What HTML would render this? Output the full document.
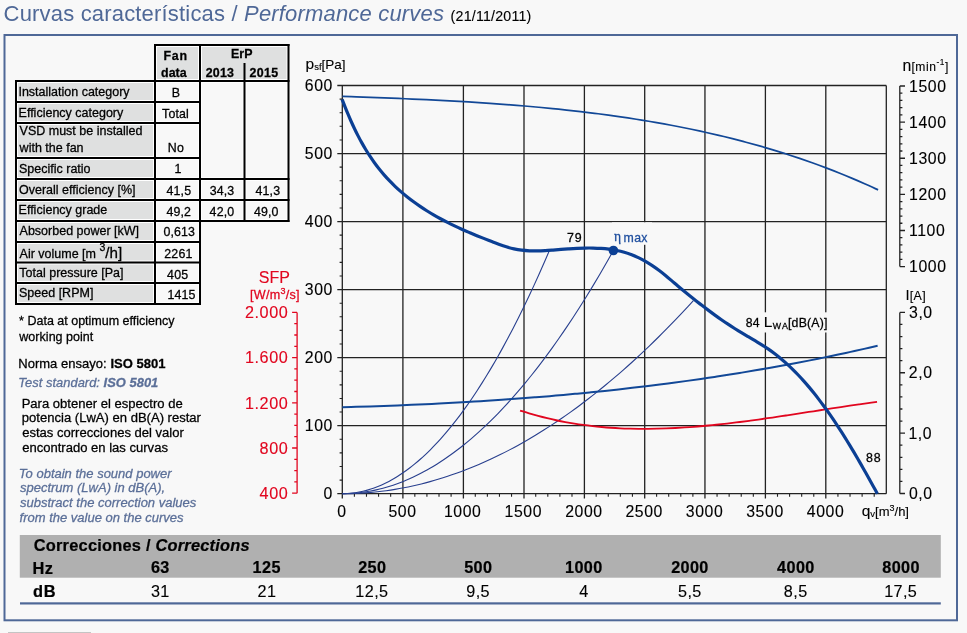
<!DOCTYPE html>
<html><head><meta charset="utf-8"><title>Curvas características / Performance curves</title>
<style>
html,body{margin:0;padding:0;background:#f8f8f8;}
body{width:967px;height:633px;overflow:hidden;}
svg{display:block;font-family:'Liberation Sans', Arial, sans-serif;}
</style></head><body>
<svg width="967" height="633" viewBox="0 0 967 633">
<rect x="4.5" y="35" width="952.5" height="585.3" fill="none" stroke="#4f6897" stroke-width="2"/>
<rect x="8" y="632" width="83" height="1" fill="#c4c4c4"/>
<text x="3.58" y="20.7" font-size="22" fill="#4f6897" letter-spacing="0.18">Curvas características / <tspan font-style="italic">Performance curves</tspan></text>
<text x="450.62" y="20.7" font-size="14.2" letter-spacing="0.21" stroke="#000" stroke-width="0.12">(21/11/2011)</text>
<rect x="156" y="46" width="43" height="34" fill="#dfe0e0"/>
<rect x="156.5" y="46.5" width="42" height="33" fill="none" stroke="#fff" stroke-width="1"/>
<rect x="201" y="46" width="86.5" height="34" fill="#dfe0e0"/>
<rect x="201.5" y="46.5" width="85.5" height="33" fill="none" stroke="#fff" stroke-width="1"/>
<rect x="17" y="82" width="137" height="19" fill="#dfe0e0"/>
<rect x="17.5" y="82.5" width="136" height="18" fill="none" stroke="#fff" stroke-width="1"/>
<rect x="156" y="82" width="43" height="19" fill="#f8f8f8"/>
<rect x="156.5" y="82.5" width="42" height="18" fill="none" stroke="#fff" stroke-width="1"/>
<rect x="17" y="103" width="137" height="19" fill="#dfe0e0"/>
<rect x="17.5" y="103.5" width="136" height="18" fill="none" stroke="#fff" stroke-width="1"/>
<rect x="156" y="103" width="43" height="19" fill="#f8f8f8"/>
<rect x="156.5" y="103.5" width="42" height="18" fill="none" stroke="#fff" stroke-width="1"/>
<rect x="17" y="124" width="137" height="33" fill="#dfe0e0"/>
<rect x="17.5" y="124.5" width="136" height="32" fill="none" stroke="#fff" stroke-width="1"/>
<rect x="156" y="124" width="43" height="33" fill="#f8f8f8"/>
<rect x="156.5" y="124.5" width="42" height="32" fill="none" stroke="#fff" stroke-width="1"/>
<rect x="17" y="159" width="137" height="19" fill="#dfe0e0"/>
<rect x="17.5" y="159.5" width="136" height="18" fill="none" stroke="#fff" stroke-width="1"/>
<rect x="156" y="159" width="43" height="19" fill="#f8f8f8"/>
<rect x="156.5" y="159.5" width="42" height="18" fill="none" stroke="#fff" stroke-width="1"/>
<rect x="17" y="180" width="137" height="19" fill="#dfe0e0"/>
<rect x="17.5" y="180.5" width="136" height="18" fill="none" stroke="#fff" stroke-width="1"/>
<rect x="156" y="180" width="43" height="19" fill="#f8f8f8"/>
<rect x="156.5" y="180.5" width="42" height="18" fill="none" stroke="#fff" stroke-width="1"/>
<rect x="17" y="201" width="137" height="19" fill="#dfe0e0"/>
<rect x="17.5" y="201.5" width="136" height="18" fill="none" stroke="#fff" stroke-width="1"/>
<rect x="156" y="201" width="43" height="19" fill="#f8f8f8"/>
<rect x="156.5" y="201.5" width="42" height="18" fill="none" stroke="#fff" stroke-width="1"/>
<rect x="17" y="222" width="137" height="19" fill="#dfe0e0"/>
<rect x="17.5" y="222.5" width="136" height="18" fill="none" stroke="#fff" stroke-width="1"/>
<rect x="156" y="222" width="43" height="19" fill="#f8f8f8"/>
<rect x="156.5" y="222.5" width="42" height="18" fill="none" stroke="#fff" stroke-width="1"/>
<rect x="17" y="243" width="137" height="18.5" fill="#dfe0e0"/>
<rect x="17.5" y="243.5" width="136" height="17.5" fill="none" stroke="#fff" stroke-width="1"/>
<rect x="156" y="243" width="43" height="18.5" fill="#f8f8f8"/>
<rect x="156.5" y="243.5" width="42" height="17.5" fill="none" stroke="#fff" stroke-width="1"/>
<rect x="17" y="263.5" width="137" height="18.5" fill="#dfe0e0"/>
<rect x="17.5" y="264" width="136" height="17.5" fill="none" stroke="#fff" stroke-width="1"/>
<rect x="156" y="263.5" width="43" height="18.5" fill="#f8f8f8"/>
<rect x="156.5" y="264" width="42" height="17.5" fill="none" stroke="#fff" stroke-width="1"/>
<rect x="17" y="284" width="137" height="19" fill="#dfe0e0"/>
<rect x="17.5" y="284.5" width="136" height="18" fill="none" stroke="#fff" stroke-width="1"/>
<rect x="156" y="284" width="43" height="19" fill="#f8f8f8"/>
<rect x="156.5" y="284.5" width="42" height="18" fill="none" stroke="#fff" stroke-width="1"/>
<rect x="201" y="82" width="42.5" height="96" fill="#f8f8f8"/>
<rect x="201.5" y="82.5" width="41.5" height="95" fill="none" stroke="#fff" stroke-width="1"/>
<rect x="245.5" y="82" width="42" height="96" fill="#f8f8f8"/>
<rect x="246" y="82.5" width="41" height="95" fill="none" stroke="#fff" stroke-width="1"/>
<rect x="201" y="180" width="42.5" height="19" fill="#f8f8f8"/>
<rect x="201.5" y="180.5" width="41.5" height="18" fill="none" stroke="#fff" stroke-width="1"/>
<rect x="245.5" y="180" width="42" height="19" fill="#f8f8f8"/>
<rect x="246" y="180.5" width="41" height="18" fill="none" stroke="#fff" stroke-width="1"/>
<rect x="201" y="201" width="42.5" height="19" fill="#f8f8f8"/>
<rect x="201.5" y="201.5" width="41.5" height="18" fill="none" stroke="#fff" stroke-width="1"/>
<rect x="245.5" y="201" width="42" height="19" fill="#f8f8f8"/>
<rect x="246" y="201.5" width="41" height="18" fill="none" stroke="#fff" stroke-width="1"/>
<rect x="154" y="44" width="135.5" height="2" fill="#000"/>
<rect x="287.5" y="44" width="2" height="178" fill="#000"/>
<rect x="243.5" y="63" width="2" height="159" fill="#000"/>
<rect x="199" y="44" width="2" height="261" fill="#000"/>
<rect x="154" y="44" width="2" height="261" fill="#000"/>
<rect x="15" y="80" width="2" height="225" fill="#000"/>
<rect x="15" y="80" width="274.5" height="2" fill="#000"/>
<rect x="15" y="101" width="186" height="2" fill="#000"/>
<rect x="15" y="122" width="186" height="2" fill="#000"/>
<rect x="15" y="157" width="186" height="2" fill="#000"/>
<rect x="15" y="178" width="274.5" height="2" fill="#000"/>
<rect x="15" y="199" width="274.5" height="2" fill="#000"/>
<rect x="15" y="220" width="274.5" height="2" fill="#000"/>
<rect x="15" y="241" width="186" height="2" fill="#000"/>
<rect x="15" y="261.5" width="186" height="2" fill="#000"/>
<rect x="15" y="282" width="186" height="2" fill="#000"/>
<rect x="15" y="303" width="186" height="2" fill="#000"/>
<text x="163.47" y="59.8" font-size="12.4" font-weight="bold" letter-spacing="0.78" stroke="#000" stroke-width="0.28">Fan</text>
<text x="160.99" y="76.7" font-size="12.4" font-weight="bold" letter-spacing="0.08" stroke="#000" stroke-width="0.28">data</text>
<text x="230.97" y="57.9" font-size="12.4" font-weight="bold" letter-spacing="0.14" stroke="#000" stroke-width="0.28">ErP</text>
<text x="205.77" y="76.7" font-size="12.4" font-weight="bold" letter-spacing="0.2" stroke="#000" stroke-width="0.28">2013</text>
<text x="249.57" y="76.7" font-size="12.4" font-weight="bold" letter-spacing="0.3" stroke="#000" stroke-width="0.28">2015</text>
<text x="18.45" y="96.2" font-size="12.5" stroke="#000" stroke-width="0.28">Installation category</text>
<text x="18.57" y="116.8" font-size="12.5" stroke="#000" stroke-width="0.28">Efficiency category</text>
<text x="19.55" y="134.9" font-size="12.5" stroke="#000" stroke-width="0.28">VSD must be installed</text>
<text x="19.62" y="151.6" font-size="12.5" stroke="#000" stroke-width="0.28">with the fan</text>
<text x="19.03" y="172.5" font-size="12.5" stroke="#000" stroke-width="0.28">Specific ratio</text>
<text x="19.01" y="194" font-size="12.5" stroke="#000" stroke-width="0.28">Overall efficiency [%]</text>
<text x="18.57" y="214.1" font-size="12.5" stroke="#000" stroke-width="0.28">Efficiency grade</text>
<text x="19.58" y="234.9" font-size="12.5" stroke="#000" stroke-width="0.28">Absorbed power [kW]</text>
<text x="19.32" y="276.7" font-size="12.5" stroke="#000" stroke-width="0.28">Total pressure [Pa]</text>
<text x="19.03" y="297.1" font-size="12.5" stroke="#000" stroke-width="0.28">Speed [RPM]</text>
<text x="19.58" y="257.8" font-size="12.5" stroke="#000" stroke-width="0.28">Air volume [m <tspan font-size="10.5" dy="-6.6">3</tspan><tspan dy="6.6" font-size="15.2">/h]</tspan></text>
<text x="171.68" y="97.2" font-size="12.4" letter-spacing="0.15" stroke="#000" stroke-width="0.28">B</text>
<text x="162.04" y="117.6" font-size="12.4" letter-spacing="0.15" stroke="#000" stroke-width="0.28">Total</text>
<text x="167.85" y="152.4" font-size="12.4" letter-spacing="0.15" stroke="#000" stroke-width="0.28">No</text>
<text x="174.58" y="173.4" font-size="12.4" letter-spacing="0.15" stroke="#000" stroke-width="0.28">1</text>
<text x="166.48" y="194.9" font-size="12.4" letter-spacing="0.15" stroke="#000" stroke-width="0.28">41,5</text>
<text x="166.43" y="215.7" font-size="12.4" letter-spacing="0.15" stroke="#000" stroke-width="0.28">49,2</text>
<text x="163.42" y="236.3" font-size="12.4" letter-spacing="0.15" stroke="#000" stroke-width="0.28">0,613</text>
<text x="164.32" y="257.8" font-size="12.4" letter-spacing="0.15" stroke="#000" stroke-width="0.28">2261</text>
<text x="167.12" y="278.7" font-size="12.4" letter-spacing="0.15" stroke="#000" stroke-width="0.28">405</text>
<text x="167.42" y="298.9" font-size="12.4" letter-spacing="0.15" stroke="#000" stroke-width="0.28">1415</text>
<text x="209.69" y="194.9" font-size="12.4" letter-spacing="0.15" stroke="#000" stroke-width="0.28">34,3</text>
<text x="255.54" y="194.9" font-size="12.4" letter-spacing="0.15" stroke="#000" stroke-width="0.28">41,3</text>
<text x="209.61" y="215.7" font-size="12.4" letter-spacing="0.15" stroke="#000" stroke-width="0.28">42,0</text>
<text x="253.91" y="215.7" font-size="12.4" letter-spacing="0.15" stroke="#000" stroke-width="0.28">49,0</text>
<text x="19.1" y="325.1" font-size="12.5" stroke="#000" stroke-width="0.28">* Data at optimum efficiency</text>
<text x="19.32" y="340.6" font-size="12.5" letter-spacing="0.03" stroke="#000" stroke-width="0.28">working point</text>
<text x="18.23" y="367.7" font-size="13" letter-spacing="0.03" stroke="#000" stroke-width="0.28">Norma ensayo: <tspan font-weight="bold">ISO 5801</tspan></text>
<text x="18.34" y="386.7" font-size="12.9" font-style="italic" fill="#5b6f98" letter-spacing="0.03" stroke="#5b6f98" stroke-width="0.28">Test standard: <tspan font-weight="bold">ISO 5801</tspan></text>
<text x="21.63" y="407.7" font-size="13.05" stroke="#000" stroke-width="0.28">Para obtener el espectro de</text>
<text x="21.86" y="422.3" font-size="13.05" stroke="#000" stroke-width="0.28">potencia (LwA) en dB(A) restar</text>
<text x="22.15" y="436.9" font-size="13.05" stroke="#000" stroke-width="0.28">estas correcciones del valor</text>
<text x="22.15" y="451.5" font-size="13.05" stroke="#000" stroke-width="0.28">encontrado en las curvas</text>
<text x="18.83" y="477.8" font-size="13.0" font-style="italic" fill="#5b6f98" stroke="#5b6f98" stroke-width="0.28">To obtain the sound power</text>
<text x="19.97" y="492.4" font-size="13.0" font-style="italic" fill="#5b6f98" stroke="#5b6f98" stroke-width="0.28">spectrum (LwA) in dB(A),</text>
<text x="19.97" y="507" font-size="13.0" font-style="italic" fill="#5b6f98" stroke="#5b6f98" stroke-width="0.28">substract the correction values</text>
<text x="19.56" y="521.6" font-size="13.0" font-style="italic" fill="#5b6f98" stroke="#5b6f98" stroke-width="0.28">from the value on the curves</text>
<rect x="19.8" y="535" width="921" height="42.7" fill="#b0b0b0"/>
<text x="33.73" y="550.9" font-size="16.4" font-weight="bold" letter-spacing="0.22" stroke="#000" stroke-width="0.22">Correcciones / <tspan font-style="italic">Corrections</tspan></text>
<text x="32.4" y="574" font-size="16.4" font-weight="bold" letter-spacing="0.6" stroke="#000" stroke-width="0.22">Hz</text>
<text x="33.03" y="596.5" font-size="16.4" font-weight="bold" letter-spacing="0.6" stroke="#000" stroke-width="0.22">dB</text>
<text x="150.89" y="573.1" font-size="16.2" font-weight="bold" letter-spacing="0.4" stroke="#000" stroke-width="0.22">63</text>
<text x="150.98" y="597" font-size="16.2" letter-spacing="0.4" stroke="#000" stroke-width="0.12">31</text>
<text x="252.6" y="573.1" font-size="16.2" font-weight="bold" letter-spacing="0.4" stroke="#000" stroke-width="0.22">125</text>
<text x="257.58" y="597" font-size="16.2" letter-spacing="0.4" stroke="#000" stroke-width="0.12">21</text>
<text x="358.14" y="573.1" font-size="16.2" font-weight="bold" letter-spacing="0.4" stroke="#000" stroke-width="0.22">250</text>
<text x="355.36" y="597" font-size="16.2" letter-spacing="0.4" stroke="#000" stroke-width="0.12">12,5</text>
<text x="464.17" y="573.1" font-size="16.2" font-weight="bold" letter-spacing="0.4" stroke="#000" stroke-width="0.22">500</text>
<text x="466.3" y="597" font-size="16.2" letter-spacing="0.4" stroke="#000" stroke-width="0.12">9,5</text>
<text x="565" y="573.1" font-size="16.2" font-weight="bold" letter-spacing="0.4" stroke="#000" stroke-width="0.22">1000</text>
<text x="579.35" y="597" font-size="16.2" letter-spacing="0.4" stroke="#000" stroke-width="0.12">4</text>
<text x="671.13" y="573.1" font-size="16.2" font-weight="bold" letter-spacing="0.4" stroke="#000" stroke-width="0.22">2000</text>
<text x="678.06" y="597" font-size="16.2" letter-spacing="0.4" stroke="#000" stroke-width="0.12">5,5</text>
<text x="777.09" y="573.1" font-size="16.2" font-weight="bold" letter-spacing="0.4" stroke="#000" stroke-width="0.22">4000</text>
<text x="783.83" y="597" font-size="16.2" letter-spacing="0.4" stroke="#000" stroke-width="0.12">8,5</text>
<text x="882.26" y="573.1" font-size="16.2" font-weight="bold" letter-spacing="0.4" stroke="#000" stroke-width="0.22">8000</text>
<text x="884.16" y="597" font-size="16.2" letter-spacing="0.4" stroke="#000" stroke-width="0.12">17,5</text>
<rect x="20" y="602.3" width="920.8" height="2.2" fill="#4f6897"/>
<path d="M342.3,85.5V498.5M402.9,85.5V498.5M463.4,85.5V498.5M524,85.5V498.5M584.4,85.5V498.5M644.7,85.5V498.5M704.95,85.5V498.5M765.4,85.5V498.5M825.8,85.5V498.5M886.3,85.5V493.7M337.3,493.7H886.3M337.3,425.67H886.3M337.3,357.63H886.3M337.3,289.6H886.3M337.3,221.57H886.3M337.3,153.53H886.3M337.3,85.5H886.3" stroke="#222222" stroke-width="1.3" fill="none"/>
<path d="M339.6,480.09H342.3M339.6,466.49H342.3M339.6,452.88H342.3M339.6,439.27H342.3M339.6,412.06H342.3M339.6,398.45H342.3M339.6,384.85H342.3M339.6,371.24H342.3M339.6,344.03H342.3M339.6,330.42H342.3M339.6,316.81H342.3M339.6,303.21H342.3M339.6,275.99H342.3M339.6,262.39H342.3M339.6,248.78H342.3M339.6,235.17H342.3M339.6,207.96H342.3M339.6,194.35H342.3M339.6,180.75H342.3M339.6,167.14H342.3M339.6,139.93H342.3M339.6,126.32H342.3M339.6,112.71H342.3M339.6,99.11H342.3M354.39,493.7V496.7M366.48,493.7V496.7M378.57,493.7V496.7M390.66,493.7V496.7M414.83,493.7V496.7M426.92,493.7V496.7M439.01,493.7V496.7M451.1,493.7V496.7M475.28,493.7V496.7M487.37,493.7V496.7M499.46,493.7V496.7M511.54,493.7V496.7M535.72,493.7V496.7M547.81,493.7V496.7M559.9,493.7V496.7M571.99,493.7V496.7M596.17,493.7V496.7M608.26,493.7V496.7M620.34,493.7V496.7M632.43,493.7V496.7M656.61,493.7V496.7M668.7,493.7V496.7M680.79,493.7V496.7M692.88,493.7V496.7M717.06,493.7V496.7M729.14,493.7V496.7M741.23,493.7V496.7M753.32,493.7V496.7M777.5,493.7V496.7M789.59,493.7V496.7M801.68,493.7V496.7M813.77,493.7V496.7M837.94,493.7V496.7M850.03,493.7V496.7M862.12,493.7V496.7M874.21,493.7V496.7" stroke="#222222" stroke-width="1.1" fill="none"/>
<rect x="612" y="222.3" width="40" height="22.5" fill="#f8f8f8"/>
<rect x="744" y="312.3" width="85" height="20.2" fill="#f8f8f8"/>
<text x="323.53" y="499.3" font-size="15.8" letter-spacing="0.6" stroke="#000" stroke-width="0.12">0</text>
<text x="304.76" y="431.27" font-size="15.8" letter-spacing="0.6" stroke="#000" stroke-width="0.12">100</text>
<text x="304.76" y="363.23" font-size="15.8" letter-spacing="0.6" stroke="#000" stroke-width="0.12">200</text>
<text x="304.76" y="295.2" font-size="15.8" letter-spacing="0.6" stroke="#000" stroke-width="0.12">300</text>
<text x="304.76" y="227.17" font-size="15.8" letter-spacing="0.6" stroke="#000" stroke-width="0.12">400</text>
<text x="304.76" y="159.13" font-size="15.8" letter-spacing="0.6" stroke="#000" stroke-width="0.12">500</text>
<text x="304.76" y="91.1" font-size="15.8" letter-spacing="0.6" stroke="#000" stroke-width="0.12">600</text>
<text x="337.21" y="516.9" font-size="15.8" letter-spacing="0.6" stroke="#000" stroke-width="0.12">0</text>
<text x="388.41" y="516.9" font-size="15.8" letter-spacing="0.6" stroke="#000" stroke-width="0.12">500</text>
<text x="443.93" y="516.9" font-size="15.8" letter-spacing="0.6" stroke="#000" stroke-width="0.12">1000</text>
<text x="504.53" y="516.9" font-size="15.8" letter-spacing="0.6" stroke="#000" stroke-width="0.12">1500</text>
<text x="565.14" y="516.9" font-size="15.8" letter-spacing="0.6" stroke="#000" stroke-width="0.12">2000</text>
<text x="625.44" y="516.9" font-size="15.8" letter-spacing="0.6" stroke="#000" stroke-width="0.12">2500</text>
<text x="685.78" y="516.9" font-size="15.8" letter-spacing="0.6" stroke="#000" stroke-width="0.12">3000</text>
<text x="746.23" y="516.9" font-size="15.8" letter-spacing="0.6" stroke="#000" stroke-width="0.12">3500</text>
<text x="806.75" y="516.9" font-size="15.8" letter-spacing="0.6" stroke="#000" stroke-width="0.12">4000</text>
<text x="305.5" y="69.2" font-size="15.5" stroke="#000" stroke-width="0.12">p<tspan font-size="9.5" dy="0.4">sf</tspan><tspan dy="-0.4" font-size="13.5">[Pa]</tspan></text>
<text x="861.7" y="515.5" font-size="15.5" stroke="#000" stroke-width="0.12">q<tspan font-size="9.5" dy="1">v</tspan><tspan dy="-1" font-size="13">[m<tspan font-size="9" dy="-5">3</tspan><tspan dy="5">/h]</tspan></tspan></text>
<path d="M899.8,86V266.6M899.8,266.6h5.2M899.8,259.38h2.6M899.8,252.15h2.6M899.8,244.93h2.6M899.8,237.7h2.6M899.8,230.48h5.2M899.8,223.26h2.6M899.8,216.03h2.6M899.8,208.81h2.6M899.8,201.58h2.6M899.8,194.36h5.2M899.8,187.14h2.6M899.8,179.91h2.6M899.8,172.69h2.6M899.8,165.46h2.6M899.8,158.24h5.2M899.8,151.02h2.6M899.8,143.79h2.6M899.8,136.57h2.6M899.8,129.34h2.6M899.8,122.12h5.2M899.8,114.9h2.6M899.8,107.67h2.6M899.8,100.45h2.6M899.8,93.22h2.6M899.8,86h5.2M899.8,312.4V493.5M899.8,493.5h5.2M899.8,481.43h2.6M899.8,469.35h2.6M899.8,457.28h2.6M899.8,445.21h2.6M899.8,433.13h5.2M899.8,421.06h2.6M899.8,408.99h2.6M899.8,396.91h2.6M899.8,384.84h2.6M899.8,372.77h5.2M899.8,360.69h2.6M899.8,348.62h2.6M899.8,336.55h2.6M899.8,324.47h2.6M899.8,312.4h5.2" stroke="#222" stroke-width="1.3" fill="none"/>
<text x="909" y="272.2" font-size="15.8" letter-spacing="0.6" stroke="#000" stroke-width="0.12">1000</text>
<text x="909" y="236.08" font-size="15.8" letter-spacing="0.6" stroke="#000" stroke-width="0.12">1100</text>
<text x="909" y="199.96" font-size="15.8" letter-spacing="0.6" stroke="#000" stroke-width="0.12">1200</text>
<text x="909" y="163.84" font-size="15.8" letter-spacing="0.6" stroke="#000" stroke-width="0.12">1300</text>
<text x="909" y="127.72" font-size="15.8" letter-spacing="0.6" stroke="#000" stroke-width="0.12">1400</text>
<text x="909" y="91.6" font-size="15.8" letter-spacing="0.6" stroke="#000" stroke-width="0.12">1500</text>
<text x="909" y="318" font-size="15.8" letter-spacing="0.6" stroke="#000" stroke-width="0.12">3,0</text>
<text x="908.81" y="378.37" font-size="15.8" letter-spacing="0.6" stroke="#000" stroke-width="0.12">2,0</text>
<text x="908.4" y="438.73" font-size="15.8" letter-spacing="0.6" stroke="#000" stroke-width="0.12">1,0</text>
<text x="908.98" y="499.1" font-size="15.8" letter-spacing="0.6" stroke="#000" stroke-width="0.12">0,0</text>
<text x="902.6" y="70.9" font-size="15.8" stroke="#000" stroke-width="0.12">n<tspan font-size="12.1" letter-spacing="0.55">[min<tspan font-size="8.3" dy="-5.6">-1</tspan><tspan dy="5.6">]</tspan></tspan></text>
<text x="905.6" y="299.6" font-size="14.7" stroke="#000" stroke-width="0.12">I<tspan font-size="12.4" dy="0.4" letter-spacing="0.4">[A]</tspan></text>
<path d="M297.1,312.4V493.2M297.1,493.2h-5M297.1,481.9h-2.8M297.1,470.6h-2.8M297.1,459.3h-2.8M297.1,448h-5M297.1,436.7h-2.8M297.1,425.4h-2.8M297.1,414.1h-2.8M297.1,402.8h-5M297.1,391.5h-2.8M297.1,380.2h-2.8M297.1,368.9h-2.8M297.1,357.6h-5M297.1,346.3h-2.8M297.1,335h-2.8M297.1,323.7h-2.8M297.1,312.4h-5" stroke="#e1061f" stroke-width="1.3" fill="none"/>
<text x="244.99" y="318.1" font-size="16.2" fill="#e1061f" letter-spacing="0.55" stroke="#e1061f" stroke-width="0.12">2.000</text>
<text x="244.99" y="363.3" font-size="16.2" fill="#e1061f" letter-spacing="0.55" stroke="#e1061f" stroke-width="0.12">1.600</text>
<text x="244.99" y="408.5" font-size="16.2" fill="#e1061f" letter-spacing="0.55" stroke="#e1061f" stroke-width="0.12">1.200</text>
<text x="259.6" y="453.7" font-size="16.2" fill="#e1061f" letter-spacing="0.55" stroke="#e1061f" stroke-width="0.12">800</text>
<text x="259.6" y="498.9" font-size="16.2" fill="#e1061f" letter-spacing="0.55" stroke="#e1061f" stroke-width="0.12">400</text>
<text x="258.87" y="283" font-size="16.0" fill="#e1061f" letter-spacing="-0.07" stroke="#e1061f" stroke-width="0.12">SFP</text>
<text x="250.0" y="298.8" font-size="12.6" letter-spacing="0.25" fill="#e1061f" stroke="#e1061f" stroke-width="0.28">[W/m<tspan font-size="9" dy="-4.8">3</tspan><tspan dy="4.8">/s]</tspan></text>
<path d="M342.3,493.7 C343.16,493.67 345.75,493.65 347.48,493.55 C349.2,493.45 350.93,493.29 352.66,493.09 C354.38,492.89 356.11,492.64 357.83,492.33 C359.56,492.03 361.28,491.67 363.01,491.27 C364.74,490.86 366.46,490.41 368.19,489.9 C369.91,489.39 371.64,488.84 373.37,488.23 C375.09,487.62 376.82,486.96 378.54,486.25 C380.27,485.54 381.99,484.78 383.72,483.97 C385.45,483.16 387.17,482.3 388.9,481.39 C390.62,480.48 392.35,479.51 394.07,478.5 C395.8,477.49 397.53,476.42 399.25,475.31 C400.98,474.19 402.7,473.03 404.43,471.81 C406.16,470.6 407.88,469.33 409.61,468.01 C411.33,466.7 413.06,465.33 414.78,463.91 C416.51,462.49 418.24,461.02 419.96,459.5 C421.69,457.98 423.41,456.41 425.14,454.79 C426.87,453.17 428.59,451.5 430.32,449.77 C432.04,448.05 433.77,446.28 435.5,444.45 C437.22,442.63 438.95,440.76 440.67,438.83 C442.4,436.91 444.12,434.93 445.85,432.9 C447.58,430.88 449.3,428.8 451.03,426.67 C452.75,424.54 454.48,422.36 456.2,420.14 C457.93,417.91 459.66,415.63 461.38,413.3 C463.11,410.97 464.83,408.58 466.56,406.15 C468.29,403.72 470.01,401.24 471.74,398.7 C473.46,396.17 475.19,393.59 476.91,390.95 C478.64,388.32 480.37,385.63 482.09,382.9 C483.82,380.16 485.54,377.37 487.27,374.54 C489,371.7 490.72,368.81 492.45,365.87 C494.17,362.94 495.9,359.95 497.62,356.91 C499.35,353.87 501.08,350.78 502.8,347.63 C504.53,344.49 506.25,341.3 507.98,338.06 C509.71,334.82 511.43,331.52 513.16,328.18 C514.88,324.84 516.61,321.44 518.34,318 C520.06,314.55 521.79,311.06 523.51,307.51 C525.24,303.96 526.96,300.37 528.69,296.72 C530.42,293.07 532.14,289.37 533.87,285.62 C535.59,281.87 537.32,278.07 539.04,274.22 C540.77,270.37 542.5,266.47 544.22,262.52 C545.95,258.57 548.54,252.51 549.4,250.51" stroke="#283f8e" stroke-width="1.1" fill="none"/>
<path d="M342.3,493.7 C343.43,493.67 346.82,493.65 349.08,493.55 C351.34,493.45 353.6,493.29 355.86,493.09 C358.11,492.89 360.37,492.64 362.63,492.33 C364.89,492.03 367.15,491.67 369.41,491.27 C371.67,490.86 373.93,490.41 376.19,489.9 C378.45,489.39 380.71,488.84 382.97,488.23 C385.22,487.62 387.48,486.96 389.74,486.25 C392,485.54 394.26,484.78 396.52,483.97 C398.78,483.16 401.04,482.3 403.3,481.39 C405.56,480.48 407.82,479.51 410.07,478.5 C412.33,477.49 414.59,476.42 416.85,475.31 C419.11,474.19 421.37,473.03 423.63,471.81 C425.89,470.6 428.15,469.33 430.41,468.01 C432.67,466.7 434.93,465.33 437.19,463.91 C439.44,462.49 441.7,461.02 443.96,459.5 C446.22,457.98 448.48,456.41 450.74,454.79 C453,453.17 455.26,451.5 457.52,449.77 C459.78,448.05 462.04,446.28 464.29,444.45 C466.55,442.63 468.81,440.75 471.07,438.83 C473.33,436.9 475.59,434.93 477.85,432.9 C480.11,430.87 482.37,428.8 484.63,426.67 C486.89,424.54 489.15,422.36 491.4,420.13 C493.66,417.9 495.92,415.62 498.18,413.29 C500.44,410.96 502.7,408.58 504.96,406.15 C507.22,403.72 509.48,401.23 511.74,398.7 C514,396.17 516.26,393.58 518.51,390.95 C520.77,388.32 523.03,385.63 525.29,382.89 C527.55,380.16 529.81,377.37 532.07,374.53 C534.33,371.7 536.59,368.81 538.85,365.87 C541.11,362.93 543.37,359.94 545.62,356.9 C547.88,353.86 550.14,350.77 552.4,347.63 C554.66,344.49 556.92,341.3 559.18,338.05 C561.44,334.81 563.7,331.52 565.96,328.17 C568.22,324.83 570.48,321.44 572.74,317.99 C574.99,314.55 577.25,311.05 579.51,307.5 C581.77,303.96 584.03,300.36 586.29,296.71 C588.55,293.06 590.81,289.36 593.07,285.62 C595.33,281.87 597.59,278.07 599.85,274.22 C602.1,270.37 604.36,266.46 606.62,262.51 C608.88,258.56 612.27,252.51 613.4,250.5" stroke="#283f8e" stroke-width="1.1" fill="none"/>
<path d="M342.3,493.7 C343.76,493.68 348.15,493.66 351.08,493.58 C354,493.5 356.93,493.38 359.86,493.22 C362.78,493.06 365.71,492.85 368.63,492.61 C371.56,492.37 374.48,492.09 377.41,491.77 C380.34,491.45 383.26,491.08 386.19,490.68 C389.11,490.28 392.04,489.84 394.97,489.35 C397.89,488.87 400.82,488.35 403.74,487.78 C406.67,487.22 409.59,486.62 412.52,485.97 C415.45,485.33 418.37,484.65 421.3,483.92 C424.22,483.2 427.15,482.43 430.07,481.63 C433,480.82 435.93,479.98 438.85,479.09 C441.78,478.21 444.7,477.28 447.63,476.32 C450.56,475.35 453.48,474.34 456.41,473.3 C459.33,472.25 462.26,471.16 465.19,470.04 C468.11,468.91 471.04,467.74 473.96,466.54 C476.89,465.33 479.81,464.08 482.74,462.79 C485.67,461.51 488.59,460.18 491.52,458.81 C494.44,457.44 497.37,456.03 500.29,454.58 C503.22,453.14 506.15,451.65 509.07,450.12 C512,448.59 514.92,447.02 517.85,445.41 C520.78,443.8 523.7,442.15 526.63,440.46 C529.55,438.77 532.48,437.04 535.4,435.27 C538.33,433.5 541.26,431.69 544.18,429.83 C547.11,427.98 550.03,426.09 552.96,424.16 C555.89,422.23 558.81,420.26 561.74,418.24 C564.66,416.23 567.59,414.18 570.51,412.09 C573.44,409.99 576.37,407.86 579.29,405.69 C582.22,403.52 585.14,401.3 588.07,399.05 C591,396.8 593.92,394.5 596.85,392.17 C599.77,389.83 602.7,387.46 605.62,385.04 C608.55,382.63 611.48,380.17 614.4,377.68 C617.33,375.18 620.25,372.65 623.18,370.07 C626.11,367.5 629.03,364.88 631.96,362.23 C634.88,359.57 637.81,356.87 640.74,354.14 C643.66,351.4 646.59,348.62 649.51,345.81 C652.44,342.99 655.36,340.13 658.29,337.24 C661.22,334.34 664.14,331.4 667.07,328.42 C669.99,325.44 672.92,322.43 675.85,319.37 C678.77,316.31 681.7,313.21 684.62,310.07 C687.55,306.93 691.94,302.12 693.4,300.53" stroke="#283f8e" stroke-width="1.1" fill="none"/>
<path d="M342.45,96.35 C344.77,96.43 351.73,96.67 356.38,96.84 C361.02,97.01 365.67,97.18 370.32,97.35 C374.98,97.52 379.63,97.7 384.29,97.88 C388.96,98.06 393.62,98.25 398.28,98.44 C402.95,98.64 407.62,98.84 412.29,99.04 C416.96,99.25 421.63,99.46 426.31,99.69 C430.98,99.91 435.66,100.14 440.34,100.38 C445.02,100.62 449.7,100.87 454.38,101.13 C459.06,101.4 463.74,101.67 468.42,101.95 C473.1,102.23 477.78,102.53 482.46,102.84 C487.14,103.15 491.83,103.47 496.51,103.8 C501.19,104.14 505.87,104.49 510.55,104.85 C515.23,105.22 519.9,105.6 524.58,106 C529.26,106.39 533.93,106.8 538.61,107.23 C543.28,107.67 547.95,108.11 552.62,108.58 C557.29,109.05 561.95,109.53 566.62,110.03 C571.28,110.54 575.94,111.06 580.6,111.61 C585.26,112.16 589.91,112.72 594.56,113.31 C599.21,113.9 603.86,114.51 608.5,115.14 C613.14,115.77 617.78,116.43 622.41,117.11 C627.04,117.79 631.67,118.5 636.29,119.23 C640.91,119.96 645.53,120.71 650.14,121.49 C654.75,122.28 659.36,123.08 663.96,123.92 C668.56,124.76 673.15,125.62 677.74,126.51 C682.33,127.41 686.91,128.33 691.48,129.28 C696.05,130.23 700.62,131.21 705.18,132.22 C709.74,133.24 714.29,134.28 718.83,135.35 C723.37,136.43 727.91,137.54 732.43,138.68 C736.96,139.82 741.48,140.99 745.99,142.2 C750.49,143.41 754.99,144.65 759.49,145.93 C763.98,147.21 768.46,148.52 772.93,149.87 C777.4,151.22 781.86,152.61 786.31,154.03 C790.76,155.46 795.2,156.92 799.63,158.42 C804.06,159.92 808.48,161.46 812.89,163.04 C817.29,164.63 821.69,166.24 826.07,167.91 C830.46,169.57 834.83,171.27 839.19,173.02 C843.55,174.76 847.9,176.55 852.23,178.38 C856.57,180.21 860.89,182.08 865.2,184 C869.51,185.92 875.94,188.91 878.09,189.89" stroke="#124897" stroke-width="1.7" fill="none"/>
<path d="M342.31,407.24 C344.61,407.18 351.52,406.99 356.13,406.86 C360.74,406.72 365.35,406.58 369.96,406.43 C374.57,406.28 379.18,406.12 383.79,405.96 C388.4,405.79 393,405.62 397.61,405.43 C402.22,405.25 406.83,405.06 411.44,404.86 C416.05,404.66 420.66,404.46 425.27,404.24 C429.88,404.03 434.48,403.8 439.09,403.57 C443.7,403.34 448.31,403.09 452.92,402.84 C457.52,402.59 462.13,402.33 466.74,402.06 C471.34,401.79 475.95,401.51 480.55,401.22 C485.16,400.93 489.76,400.64 494.37,400.33 C498.97,400.02 503.58,399.7 508.18,399.37 C512.78,399.04 517.38,398.7 521.98,398.35 C526.59,398.01 531.19,397.65 535.79,397.28 C540.38,396.91 544.98,396.53 549.58,396.13 C554.18,395.74 558.77,395.34 563.37,394.93 C567.97,394.51 572.56,394.09 577.15,393.65 C581.75,393.22 586.34,392.77 590.93,392.31 C595.52,391.85 600.11,391.38 604.7,390.9 C609.28,390.41 613.87,389.92 618.46,389.41 C623.04,388.91 627.62,388.39 632.21,387.86 C636.79,387.33 641.37,386.78 645.95,386.23 C650.53,385.67 655.1,385.1 659.68,384.52 C664.25,383.94 668.83,383.35 673.4,382.74 C677.97,382.13 682.54,381.51 687.11,380.88 C691.68,380.24 696.25,379.6 700.81,378.94 C705.37,378.28 709.94,377.6 714.5,376.92 C719.06,376.23 723.62,375.53 728.17,374.81 C732.73,374.09 737.28,373.36 741.83,372.62 C746.38,371.88 750.93,371.12 755.48,370.35 C760.03,369.57 764.57,368.79 769.11,367.98 C773.66,367.18 778.2,366.36 782.73,365.53 C787.27,364.7 791.81,363.85 796.34,362.99 C800.87,362.13 805.4,361.25 809.93,360.36 C814.45,359.46 818.98,358.55 823.5,357.63 C828.02,356.71 832.54,355.77 837.05,354.81 C841.57,353.85 846.08,352.88 850.59,351.89 C855.1,350.9 859.61,349.9 864.11,348.88 C868.62,347.86 875.36,346.28 877.62,345.76" stroke="#124897" stroke-width="2" fill="none"/>
<path d="M520.1,410.54 C521.61,411.01 526.1,412.47 529.11,413.36 C532.11,414.26 535.12,415.11 538.13,415.91 C541.14,416.72 544.16,417.48 547.18,418.21 C550.19,418.93 553.22,419.61 556.24,420.25 C559.27,420.89 562.29,421.49 565.32,422.05 C568.35,422.61 571.39,423.13 574.43,423.62 C577.46,424.11 580.5,424.55 583.54,424.96 C586.58,425.38 589.63,425.75 592.68,426.09 C595.72,426.44 598.77,426.74 601.82,427.02 C604.87,427.29 607.93,427.53 610.98,427.74 C614.04,427.95 617.1,428.13 620.15,428.28 C623.21,428.43 626.27,428.54 629.34,428.63 C632.4,428.72 635.46,428.78 638.53,428.82 C641.59,428.85 644.66,428.85 647.73,428.84 C650.8,428.82 653.87,428.77 656.94,428.7 C660.01,428.63 663.08,428.54 666.15,428.42 C669.22,428.31 672.29,428.17 675.37,428.01 C678.44,427.85 681.51,427.66 684.59,427.46 C687.66,427.26 690.74,427.04 693.81,426.8 C696.89,426.56 699.96,426.3 703.04,426.02 C706.11,425.75 709.19,425.46 712.26,425.15 C715.34,424.84 718.41,424.52 721.49,424.18 C724.56,423.84 727.64,423.49 730.71,423.12 C733.78,422.76 736.86,422.38 739.93,421.99 C743,421.61 746.07,421.2 749.15,420.8 C752.22,420.39 755.29,419.97 758.35,419.54 C761.42,419.11 764.49,418.68 767.56,418.23 C770.62,417.79 773.69,417.34 776.75,416.89 C779.81,416.43 782.88,415.97 785.94,415.51 C789,415.05 792.06,414.58 795.11,414.11 C798.17,413.64 801.22,413.16 804.28,412.69 C807.33,412.22 810.38,411.74 813.43,411.27 C816.48,410.79 819.52,410.32 822.56,409.84 C825.61,409.37 828.65,408.9 831.69,408.43 C834.73,407.97 837.76,407.5 840.79,407.04 C843.83,406.59 846.86,406.13 849.88,405.68 C852.91,405.24 855.93,404.79 858.95,404.36 C861.97,403.93 864.99,403.5 868.01,403.08 C871.02,402.67 875.53,402.06 877.04,401.86" stroke="#e1061f" stroke-width="1.8" fill="none"/>
<path d="M342.09,99.32 C342.57,100.54 343.96,104.21 344.93,106.65 C345.9,109.09 346.89,111.54 347.92,113.97 C348.94,116.41 349.99,118.84 351.07,121.26 C352.16,123.67 353.27,126.09 354.42,128.48 C355.56,130.87 356.74,133.25 357.96,135.61 C359.17,137.97 360.42,140.32 361.71,142.64 C363.01,144.95 364.33,147.25 365.7,149.52 C367.07,151.79 368.48,154.03 369.94,156.24 C371.39,158.45 372.89,160.63 374.44,162.77 C375.98,164.91 377.57,167.02 379.22,169.08 C380.86,171.15 382.55,173.18 384.29,175.16 C386.03,177.14 387.82,179.08 389.65,180.98 C391.49,182.88 393.37,184.73 395.29,186.55 C397.21,188.36 399.18,190.14 401.18,191.87 C403.18,193.6 405.23,195.29 407.3,196.95 C409.38,198.6 411.49,200.21 413.62,201.78 C415.76,203.35 417.93,204.88 420.13,206.37 C422.32,207.86 424.55,209.32 426.79,210.73 C429.04,212.14 431.31,213.52 433.59,214.86 C435.88,216.19 438.18,217.49 440.5,218.76 C442.82,220.02 445.16,221.24 447.5,222.43 C449.85,223.62 452.21,224.77 454.58,225.9 C456.96,227.02 459.34,228.12 461.74,229.19 C464.14,230.27 466.56,231.32 468.98,232.35 C471.41,233.39 473.85,234.4 476.3,235.41 C478.76,236.41 481.22,237.4 483.7,238.39 C486.18,239.38 488.68,240.37 491.18,241.34 C493.69,242.31 496.21,243.31 498.74,244.22 C501.27,245.14 503.81,246.05 506.36,246.82 C508.91,247.6 511.47,248.32 514.04,248.88 C516.6,249.45 519.17,249.88 521.75,250.2 C524.33,250.53 526.91,250.72 529.5,250.84 C532.09,250.96 534.69,250.97 537.29,250.94 C539.9,250.9 542.51,250.78 545.13,250.64 C547.75,250.5 550.38,250.29 553.02,250.09 C555.66,249.89 558.3,249.64 560.96,249.43 C563.61,249.21 566.28,248.99 568.95,248.8 C571.62,248.61 574.3,248.44 576.98,248.31 C579.66,248.18 582.35,248.08 585.03,248.03 C587.7,247.99 590.38,247.98 593.05,248.04 C595.71,248.1 598.37,248.2 601.01,248.39 C603.65,248.58 606.28,248.83 608.89,249.17 C611.5,249.51 614.09,249.93 616.65,250.45 C619.21,250.96 621.75,251.56 624.26,252.28 C626.77,253 629.25,253.82 631.69,254.75 C634.13,255.69 636.54,256.75 638.91,257.9 C641.28,259.05 643.61,260.32 645.9,261.66 C648.2,263 650.46,264.43 652.67,265.91 C654.89,267.4 657.07,268.97 659.21,270.56 C661.35,272.16 663.44,273.82 665.5,275.5 C667.56,277.17 669.57,278.89 671.58,280.6 C673.58,282.31 675.55,284.06 677.55,285.76 C679.55,287.47 681.55,289.17 683.57,290.85 C685.6,292.52 687.66,294.16 689.72,295.8 C691.77,297.45 693.85,299.08 695.93,300.71 C698.01,302.34 700.1,303.97 702.2,305.58 C704.3,307.2 706.4,308.81 708.53,310.4 C710.65,311.99 712.78,313.57 714.93,315.12 C717.08,316.68 719.24,318.22 721.41,319.73 C723.59,321.24 725.78,322.73 727.99,324.19 C730.2,325.65 732.43,327.07 734.67,328.48 C736.91,329.88 739.17,331.26 741.43,332.63 C743.69,333.99 745.96,335.34 748.23,336.69 C750.51,338.03 752.79,339.35 755.06,340.7 C757.32,342.06 759.6,343.39 761.82,344.8 C764.05,346.21 766.26,347.64 768.42,349.14 C770.58,350.64 772.7,352.19 774.79,353.78 C776.88,355.38 778.93,357.03 780.94,358.72 C782.96,360.41 784.94,362.15 786.9,363.92 C788.85,365.69 790.76,367.51 792.65,369.36 C794.54,371.21 796.39,373.1 798.22,375.02 C800.05,376.94 801.84,378.89 803.61,380.87 C805.38,382.85 807.12,384.86 808.83,386.89 C810.55,388.92 812.23,390.98 813.9,393.06 C815.56,395.14 817.2,397.24 818.81,399.35 C820.42,401.46 822.01,403.6 823.58,405.74 C825.15,407.88 826.7,410.04 828.22,412.2 C829.75,414.36 831.25,416.54 832.74,418.72 C834.23,420.91 835.7,423.1 837.15,425.31 C838.6,427.51 840.03,429.72 841.45,431.94 C842.87,434.17 844.28,436.4 845.67,438.63 C847.06,440.87 848.44,443.12 849.8,445.37 C851.17,447.63 852.52,449.89 853.87,452.16 C855.21,454.43 856.55,456.7 857.87,458.99 C859.2,461.27 860.52,463.56 861.83,465.85 C863.14,468.15 864.44,470.45 865.75,472.76 C867.05,475.07 868.34,477.38 869.63,479.7 C870.93,482.02 872.22,484.34 873.51,486.67 C874.8,488.99 876.73,492.5 877.37,493.66" stroke="#0b3f94" stroke-width="3.2" fill="none" stroke-linejoin="round"/>
<circle cx="613.4" cy="250.5" r="4.8" fill="#0b3f94"/>
<text x="566.96" y="241.8" font-size="12.4" letter-spacing="0.83" stroke="#000" stroke-width="0.28">79</text>
<text x="614.0" y="240.9" font-size="13.6" font-family="Liberation Serif, serif" fill="#1f4f9f" stroke="#1f4f9f" stroke-width="0.28">η</text>
<text x="623.58" y="241.8" font-size="12.3" fill="#1f4f9f" letter-spacing="0.31" stroke="#1f4f9f" stroke-width="0.28">max</text>
<text x="745.77" y="326.8" font-size="12.2" letter-spacing="0.32" stroke="#000" stroke-width="0.28">84</text>
<text x="763.63" y="327" font-size="15.5" stroke="#000" stroke-width="0.12">L</text>
<text x="772.76" y="329.4" font-size="8.8" letter-spacing="1.28" stroke="#000" stroke-width="0.28">WA</text>
<text x="788.02" y="326.9" font-size="12.3" letter-spacing="0.18" stroke="#000" stroke-width="0.28">[dB(A)]</text>
<text x="866.06" y="462.2" font-size="12.4" letter-spacing="0.79" stroke="#000" stroke-width="0.28">88</text>
</svg>
</body></html>
